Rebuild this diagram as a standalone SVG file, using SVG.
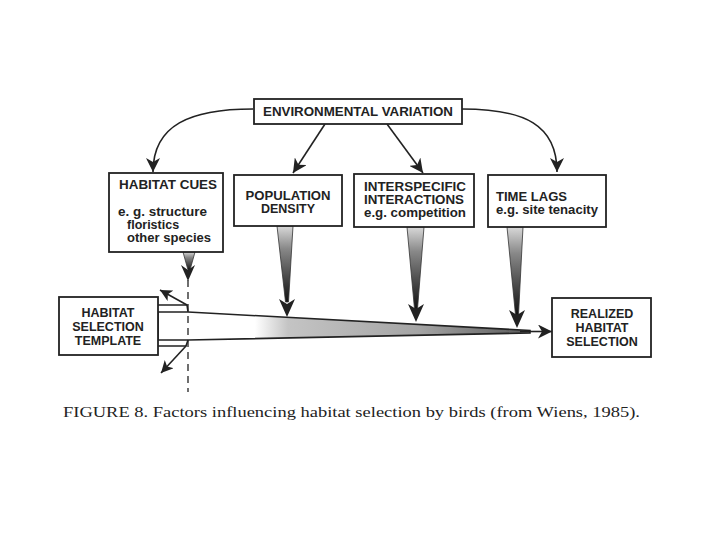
<svg xmlns="http://www.w3.org/2000/svg" width="720" height="540" viewBox="0 0 720 540">
<style>
.box{fill:#fff;stroke:#222;stroke-width:1.8}
.t{font-family:"Liberation Sans",Arial,sans-serif;font-weight:bold;font-size:12.5px;fill:#222}
.c{text-anchor:middle}
.ln{fill:none;stroke:#222;stroke-width:1.6}
.cap{font-family:"Liberation Serif","Times New Roman",serif;font-size:15.5px;fill:#222}
</style>
<defs>
<marker id="ah" markerWidth="16" markerHeight="14" refX="14" refY="7" orient="auto" markerUnits="userSpaceOnUse">
<path d="M14,7 L0,0 L4,7 L0,14 Z" fill="#222"/>
</marker>
<marker id="sa" markerWidth="14" markerHeight="12" refX="12" refY="6" orient="auto" markerUnits="userSpaceOnUse">
<path d="M12,6 L0,0 L3,6 L0,12 Z" fill="#222"/>
</marker>
<linearGradient id="fun" x1="0" y1="0" x2="0" y2="1">
<stop offset="0" stop-color="#d8d8d8"/>
<stop offset="0.3" stop-color="#888"/>
<stop offset="1" stop-color="#111"/>
</linearGradient>
<linearGradient id="band" gradientUnits="userSpaceOnUse" x1="255" y1="0" x2="530" y2="0">
<stop offset="0" stop-color="#fff"/>
<stop offset="0.12" stop-color="#c4c4c4"/>
<stop offset="0.6" stop-color="#a4a4a4"/>
<stop offset="1" stop-color="#5a5a5a"/>
</linearGradient>
</defs>

<g id="connectors">
<path class="ln" d="M253,109 C190,109 153,125 153,172" marker-end="url(#ah)"/>
<path class="ln" d="M462,109 C525,109 557,125 557,172" marker-end="url(#ah)"/>
<line class="ln" x1="325" y1="124" x2="293" y2="173" marker-end="url(#ah)"/>
<line class="ln" x1="387" y1="124" x2="423" y2="173" marker-end="url(#ah)"/>

<path d="M158,312 L188,312 L530,330.5 L530,333 L188,340 L158,340 Z" fill="url(#band)" stroke="#222" stroke-width="1.6"/>
<line class="ln" x1="520" y1="331.5" x2="552" y2="331.5" marker-end="url(#ah)"/>
<path d="M158,305 L187,305 L188,312" class="ln"/>
<path d="M158,346 L186,346 L188,340" class="ln"/>
<line class="ln" x1="187" y1="305" x2="160" y2="290" marker-end="url(#sa)"/>
<line class="ln" x1="186" y1="346" x2="161" y2="373" marker-end="url(#sa)"/>
<line x1="188" y1="280" x2="188" y2="392" stroke="#222" stroke-width="1.3" stroke-dasharray="7,5"/>

<path d="M183,252 L195,252 L190,270 L188,270 Z" fill="url(#fun)" stroke="#333" stroke-width="0.8"/>
<path d="M188,281 L181,265 L188,270 L195,265 Z" fill="#222"/>
<path d="M277,226 L293,226 L288.5,302 L285.5,302 Z" fill="url(#fun)" stroke="#333" stroke-width="0.8"/>
<path d="M287,317 L279,299 L287,304 L295,299 Z" fill="#222"/>
<path d="M407,227 L424,227 L417.5,309 L414.5,309 Z" fill="url(#fun)" stroke="#333" stroke-width="0.8"/>
<path d="M416,322 L408,304 L416,309 L424,304 Z" fill="#222"/>
<path d="M507,227 L523,227 L518.5,315 L515.5,315 Z" fill="url(#fun)" stroke="#333" stroke-width="0.8"/>
<path d="M517,328 L509,310 L517,315 L525,310 Z" fill="#222"/>
</g>

<g id="env">
<rect class="box" x="254" y="99" width="208" height="25"/>
<text class="t c" x="358" y="116" textLength="190" lengthAdjust="spacingAndGlyphs">ENVIRONMENTAL VARIATION</text>
</g>

<g id="cues">
<rect class="box" x="109" y="173" width="114" height="79"/>
<text class="t" x="119" y="189" textLength="98" lengthAdjust="spacingAndGlyphs">HABITAT CUES</text>
<text class="t" x="118" y="216" textLength="89" lengthAdjust="spacingAndGlyphs">e. g. structure</text>
<text class="t" x="127" y="229">floristics</text>
<text class="t" x="127" y="242" textLength="84" lengthAdjust="spacingAndGlyphs">other species</text>
</g>

<g id="pop">
<rect class="box" x="234" y="175" width="108" height="51"/>
<text class="t c" x="288" y="200" textLength="85" lengthAdjust="spacingAndGlyphs">POPULATION</text>
<text class="t c" x="288" y="213">DENSITY</text>
</g>

<g id="inter">
<rect class="box" x="354" y="174" width="120" height="53"/>
<text class="t" x="364" y="191" textLength="102" lengthAdjust="spacingAndGlyphs">INTERSPECIFIC</text>
<text class="t" x="364" y="204" textLength="100" lengthAdjust="spacingAndGlyphs">INTERACTIONS</text>
<text class="t" x="364" y="217" textLength="102" lengthAdjust="spacingAndGlyphs">e.g. competition</text>
</g>

<g id="lags">
<rect class="box" x="488" y="175" width="118" height="52"/>
<text class="t" x="496" y="201" textLength="71" lengthAdjust="spacingAndGlyphs">TIME LAGS</text>
<text class="t" x="496" y="214" textLength="102" lengthAdjust="spacingAndGlyphs">e.g. site tenacity</text>
</g>

<g id="template">
<rect class="box" x="59" y="297" width="99" height="58"/>
<text class="t c" x="108" y="317">HABITAT</text>
<text class="t c" x="108" y="331">SELECTION</text>
<text class="t c" x="108" y="345">TEMPLATE</text>
</g>

<g id="realized">
<rect class="box" x="552" y="298" width="99" height="59"/>
<text class="t c" x="602" y="318">REALIZED</text>
<text class="t c" x="602" y="332">HABITAT</text>
<text class="t c" x="602" y="346">SELECTION</text>
</g>

<text class="cap" x="63" y="417" textLength="577" lengthAdjust="spacingAndGlyphs">FIGURE 8.  Factors influencing habitat selection by birds (from Wiens, 1985).</text>
</svg>
